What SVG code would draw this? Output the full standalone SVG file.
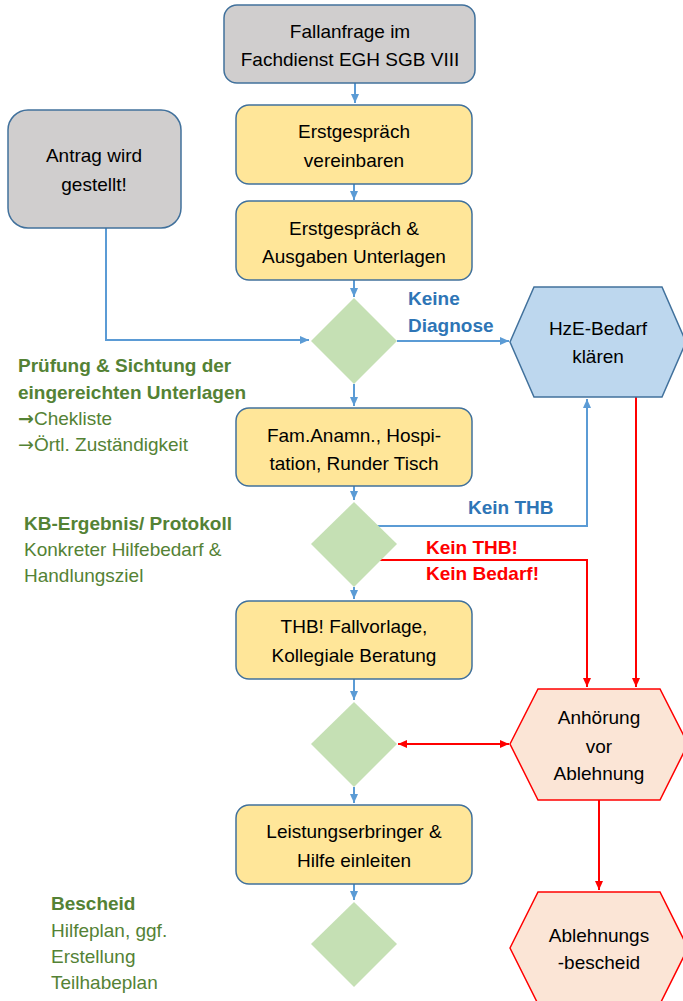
<svg xmlns="http://www.w3.org/2000/svg" width="683" height="1001" viewBox="0 0 683 1001">
<style>
text{font-family:"Liberation Sans",Arial,sans-serif;font-size:19px}
.c{text-anchor:middle;fill:#000}
.box{fill:#ffe699;stroke:#41719c;stroke-width:1.5}
.gray{fill:#d0cece;stroke:#41719c;stroke-width:1.5}
.dia{fill:#c5e0b4}
.g{fill:#548235}
.b{font-weight:bold}
.bl{fill:#2e75b6;font-weight:bold}
.rd{fill:#ff0000;font-weight:bold}
.arw{font-family:"DejaVu Sans",sans-serif;font-size:19px}
.cb{fill:none;stroke:#5b9bd5;stroke-width:2}
.cr{fill:none;stroke:#ff0000;stroke-width:2}
</style>
<defs>
<marker id="ab" markerUnits="userSpaceOnUse" markerWidth="10" markerHeight="10" refX="9" refY="5" orient="auto"><path d="M0,1 L9,5 L0,9 Z" fill="#5b9bd5"/></marker>
<marker id="ar" markerUnits="userSpaceOnUse" markerWidth="10" markerHeight="10" refX="9" refY="5" orient="auto"><path d="M0,1 L9,5 L0,9 Z" fill="#ff0000"/></marker>
<marker id="ars" markerUnits="userSpaceOnUse" markerWidth="10" markerHeight="10" refX="1" refY="5" orient="auto"><path d="M10,1 L1,5 L10,9 Z" fill="#ff0000"/></marker>
</defs>
<g id="connectors">
<path class="cb" d="M355 83 V103" marker-end="url(#ab)"/>
<path class="cb" d="M354 184 V200" marker-end="url(#ab)"/>
<path class="cb" d="M354 280 V297" marker-end="url(#ab)"/>
<path class="cb" d="M106 228 V340 H309" marker-end="url(#ab)"/>
<path class="cb" d="M397 341 H509" marker-end="url(#ab)"/>
<path class="cb" d="M354 384 V406" marker-end="url(#ab)"/>
<path class="cb" d="M354 486 V500" marker-end="url(#ab)"/>
<path class="cb" d="M377 526 H587 V399" marker-end="url(#ab)"/>
<path class="cb" d="M354 587 V599" marker-end="url(#ab)"/>
<path class="cb" d="M354 679 V700" marker-end="url(#ab)"/>
<path class="cb" d="M354 787 V803" marker-end="url(#ab)"/>
<path class="cb" d="M354 884 V900" marker-end="url(#ab)"/>
<path class="cr" d="M380 560 H587 V687" marker-end="url(#ar)"/>
<path class="cr" d="M636 397 V687" marker-end="url(#ar)"/>
<path class="cr" d="M398 744 H509" marker-start="url(#ars)" marker-end="url(#ar)"/>
<path class="cr" d="M599 800 V890" marker-end="url(#ar)"/>
</g>
<g id="n-fallanfrage">
<rect class="gray" x="224" y="5" width="251" height="78" rx="13"/>
<text class="c" x="350" y="38">Fallanfrage im</text>
<text class="c" x="350" y="66">Fachdienst EGH SGB VIII</text>
</g>
<g id="n-antrag">
<rect class="gray" x="8" y="110" width="173" height="118" rx="20"/>
<text class="c" x="94" y="162">Antrag wird</text>
<text class="c" x="94" y="191">gestellt!</text>
</g>
<g id="n-erstgespraech-vereinbaren">
<rect class="box" x="236" y="105" width="236" height="79" rx="13"/>
<text class="c" x="354" y="138">Erstgespräch</text>
<text class="c" x="354" y="167">vereinbaren</text>
</g>
<g id="n-erstgespraech-unterlagen">
<rect class="box" x="236" y="201" width="236" height="79" rx="13"/>
<text class="c" x="354" y="235">Erstgespräch &amp;</text>
<text class="c" x="354" y="263">Ausgaben Unterlagen</text>
</g>
<g id="n-d1">
<path class="dia" d="M354 298 L397 341 L354 384 L311 341 Z"/>
</g>
<g id="l-keine-diagnose">
<text class="bl" x="408" y="305">Keine</text>
<text class="bl" x="408" y="332">Diagnose</text>
</g>
<g id="n-hze">
<path d="M510 342 L534 287 L662 287 L686 342 L662 397 L534 397 Z" fill="#bdd7ee" stroke="#41719c" stroke-width="1.5"/>
<text class="c" x="598" y="335">HzE-Bedarf</text>
<text class="c" x="598" y="363">klären</text>
</g>
<g id="l-pruefung">
<text class="g b" x="18" y="372">Prüfung &amp; Sichtung der</text>
<text class="g b" x="18" y="399">eingereichten Unterlagen</text>
<text class="g" x="18" y="425"><tspan class="arw" font-weight="bold">→</tspan>Chekliste</text>
<text class="g" x="18" y="451"><tspan class="arw">→</tspan>Örtl. Zuständigkeit</text>
</g>
<g id="n-fam">
<rect class="box" x="236" y="408" width="236" height="78" rx="13"/>
<text class="c" x="354" y="442">Fam.Anamn., Hospi-</text>
<text class="c" x="354" y="470">tation, Runder Tisch</text>
</g>
<g id="n-d2">
<path class="dia" d="M354 502 L397 544 L354 587 L311 544 Z"/>
</g>
<g id="l-kb">
<text class="g b" x="24" y="530">KB-Ergebnis/ Protokoll</text>
<text class="g" x="24" y="556">Konkreter Hilfebedarf &amp;</text>
<text class="g" x="24" y="582">Handlungsziel</text>
</g>
<g id="l-kein-thb">
<text class="bl" x="468" y="514">Kein THB</text>
</g>
<g id="l-kein-bedarf">
<text class="rd" x="426" y="554">Kein THB!</text>
<text class="rd" x="426" y="580">Kein Bedarf!</text>
</g>
<g id="n-thb">
<rect class="box" x="236" y="601" width="236" height="78" rx="13"/>
<text class="c" x="354" y="633">THB! Fallvorlage,</text>
<text class="c" x="354" y="662">Kollegiale Beratung</text>
</g>
<g id="n-d3">
<path class="dia" d="M354 702 L397 744 L354 787 L311 744 Z"/>
</g>
<g id="n-anhoerung">
<path d="M510 744 L538 689 L660 689 L688 744 L660 800 L538 800 Z" fill="#fbe5d6" stroke="#ff0000" stroke-width="1.5"/>
<text class="c" x="599" y="724">Anhörung</text>
<text class="c" x="599" y="753">vor</text>
<text class="c" x="599" y="780">Ablehnung</text>
</g>
<g id="n-leistung">
<rect class="box" x="236" y="805" width="236" height="79" rx="13"/>
<text class="c" x="354" y="838">Leistungserbringer &amp;</text>
<text class="c" x="354" y="867">Hilfe einleiten</text>
</g>
<g id="n-d4">
<path class="dia" d="M354 902 L397 944 L354 987 L311 944 Z"/>
</g>
<g id="l-bescheid">
<text class="g b" x="51" y="910">Bescheid</text>
<text class="g" x="51" y="937">Hilfeplan, ggf.</text>
<text class="g" x="51" y="963">Erstellung</text>
<text class="g" x="51" y="989">Teilhabeplan</text>
</g>
<g id="n-ablehnung">
<path d="M510 948 L538 892 L660 892 L688 948 L660 1004 L538 1004 Z" fill="#fbe5d6" stroke="#ff0000" stroke-width="1.5"/>
<text class="c" x="599" y="942">Ablehnungs</text>
<text class="c" x="599" y="969">-bescheid</text>
</g>
</svg>
